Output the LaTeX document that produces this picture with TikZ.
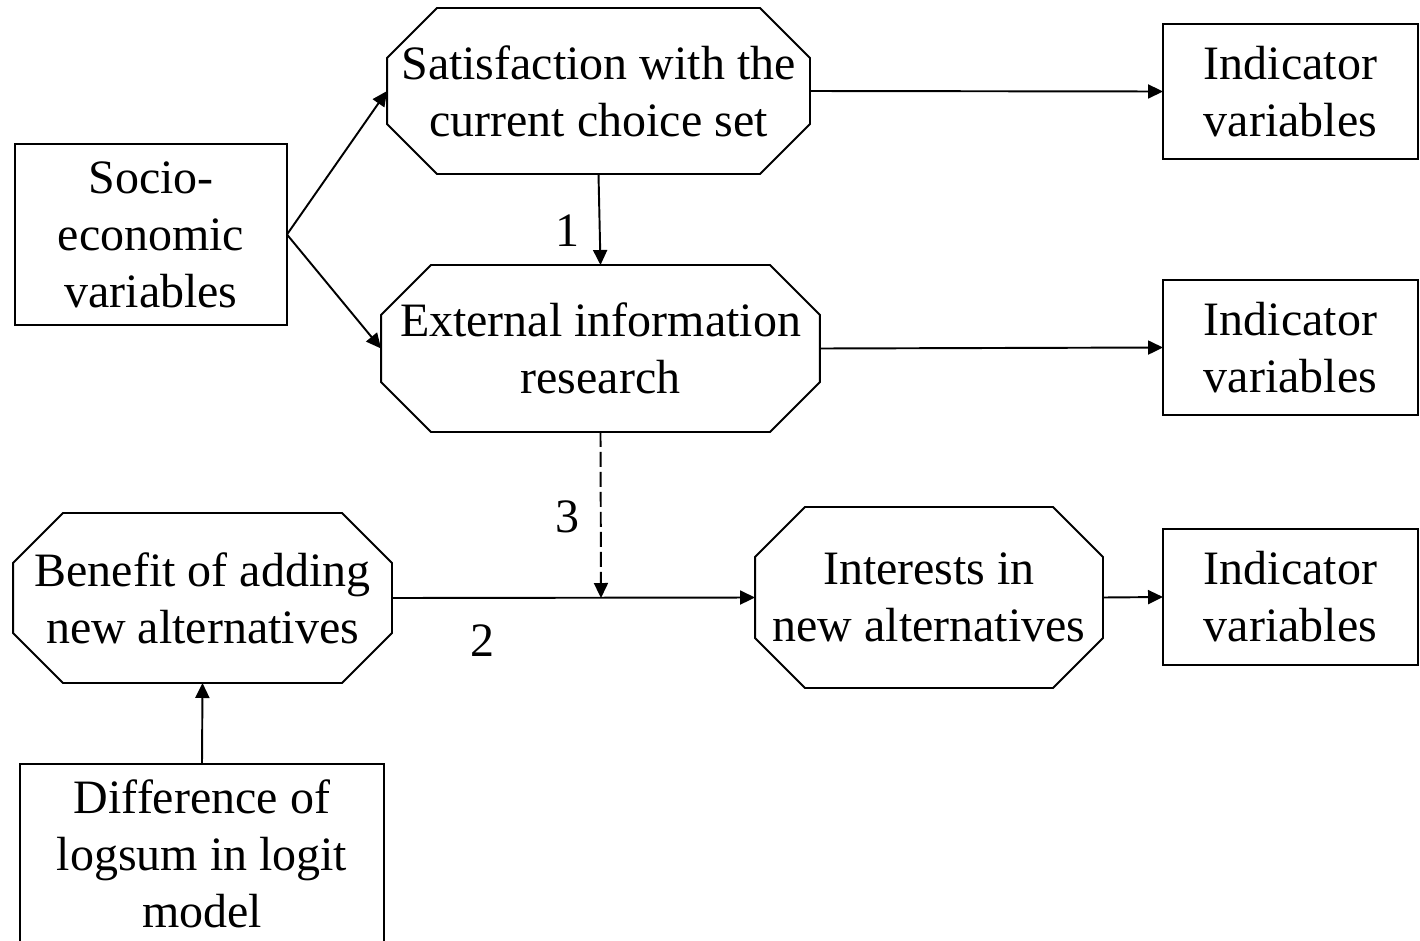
\documentclass[tikz,border=0pt]{standalone}
\usepackage{fontspec}
\setmainfont{Liberation Serif}
\usetikzlibrary{arrows.meta}

\newcommand{\octbox}[1]{\draw ([xshift=1cm]#1.north west) -- ([xshift=-1cm]#1.north east)
  -- ([yshift=-1cm]#1.north east) -- ([yshift=1cm]#1.south east)
  -- ([xshift=-1cm]#1.south east) -- ([xshift=1cm]#1.south west)
  -- ([yshift=1cm]#1.south west) -- ([yshift=-1cm]#1.north west) -- cycle;}

\begin{document}
\begin{tikzpicture}[x=0.02cm,y=-0.02cm,>={Triangle[length=0.3cm,width=0.28cm]},
  line width=1.1pt,font=\fontsize{27.3}{32.4}\selectfont,
  var box/.style={draw,align=center,inner sep=0pt,outer sep=0pt},
  latent/.style={align=center,inner sep=0pt,outer sep=0pt},
  num/.style={inner sep=0pt}]
   \useasboundingbox (0,0) rectangle (1420,940);
   \node[var box,minimum width=5.44cm,minimum height=3.62cm] (socio) at (151,234.5) {Socio-\\economic\\variables};
   \node[latent,minimum width=8.46cm,minimum height=3.32cm] (sat) at (598.5,91) {Satisfaction with the\\current choice set};
   \node[latent,minimum width=8.78cm,minimum height=3.34cm] (ext) at (600.5,348.5) {External information\\research};
   \node[latent,minimum width=7.58cm,minimum height=3.4cm] (ben) at (202.5,598) {Benefit of adding\\new alternatives};
   \node[latent,minimum width=6.96cm,minimum height=3.62cm] (int) at (929,597.5) {Interests in\\new alternatives};
   \node[var box,minimum width=7.28cm,minimum height=3.84cm,text depth=0.25cm] (diff) at (202,860) {Difference of\\logsum in logit\\model};
   \node[var box,minimum width=5.1cm,minimum height=2.7cm] (ind1) at (1290.5,91.5) {Indicator\\variables};
   \node[var box,minimum width=5.1cm,minimum height=2.7cm] (ind2) at (1290.5,347.5) {Indicator\\variables};
   \node[var box,minimum width=5.1cm,minimum height=2.72cm] (ind3) at (1290.5,597) {Indicator\\variables};
   \coordinate (meet) at (601,598);
   \octbox{sat} \octbox{ext} \octbox{ben} \octbox{int}
    \path[->]
    (socio.east) edge (sat.west)
                 edge (ext.west)
    (sat.south) edge node[num,pos=0.62,left=0.38cm] (lab1) {1} (ext.north)
    (sat.east) edge (ind1.west)
    (ext.east) edge (ind2.west)
    (ben.east) edge node[num,pos=0.25,below=0.52cm] (lab2) {2} (int.west)
    (int.east) edge (ind3.west)
    (diff.north) edge (ben.south)
    (ext.south) edge [dash pattern=on 0.3cm off 0.1cm] node[num,pos=0.51,left=0.4cm] (lab3) {3} (meet);
\end{tikzpicture}
\end{document}
